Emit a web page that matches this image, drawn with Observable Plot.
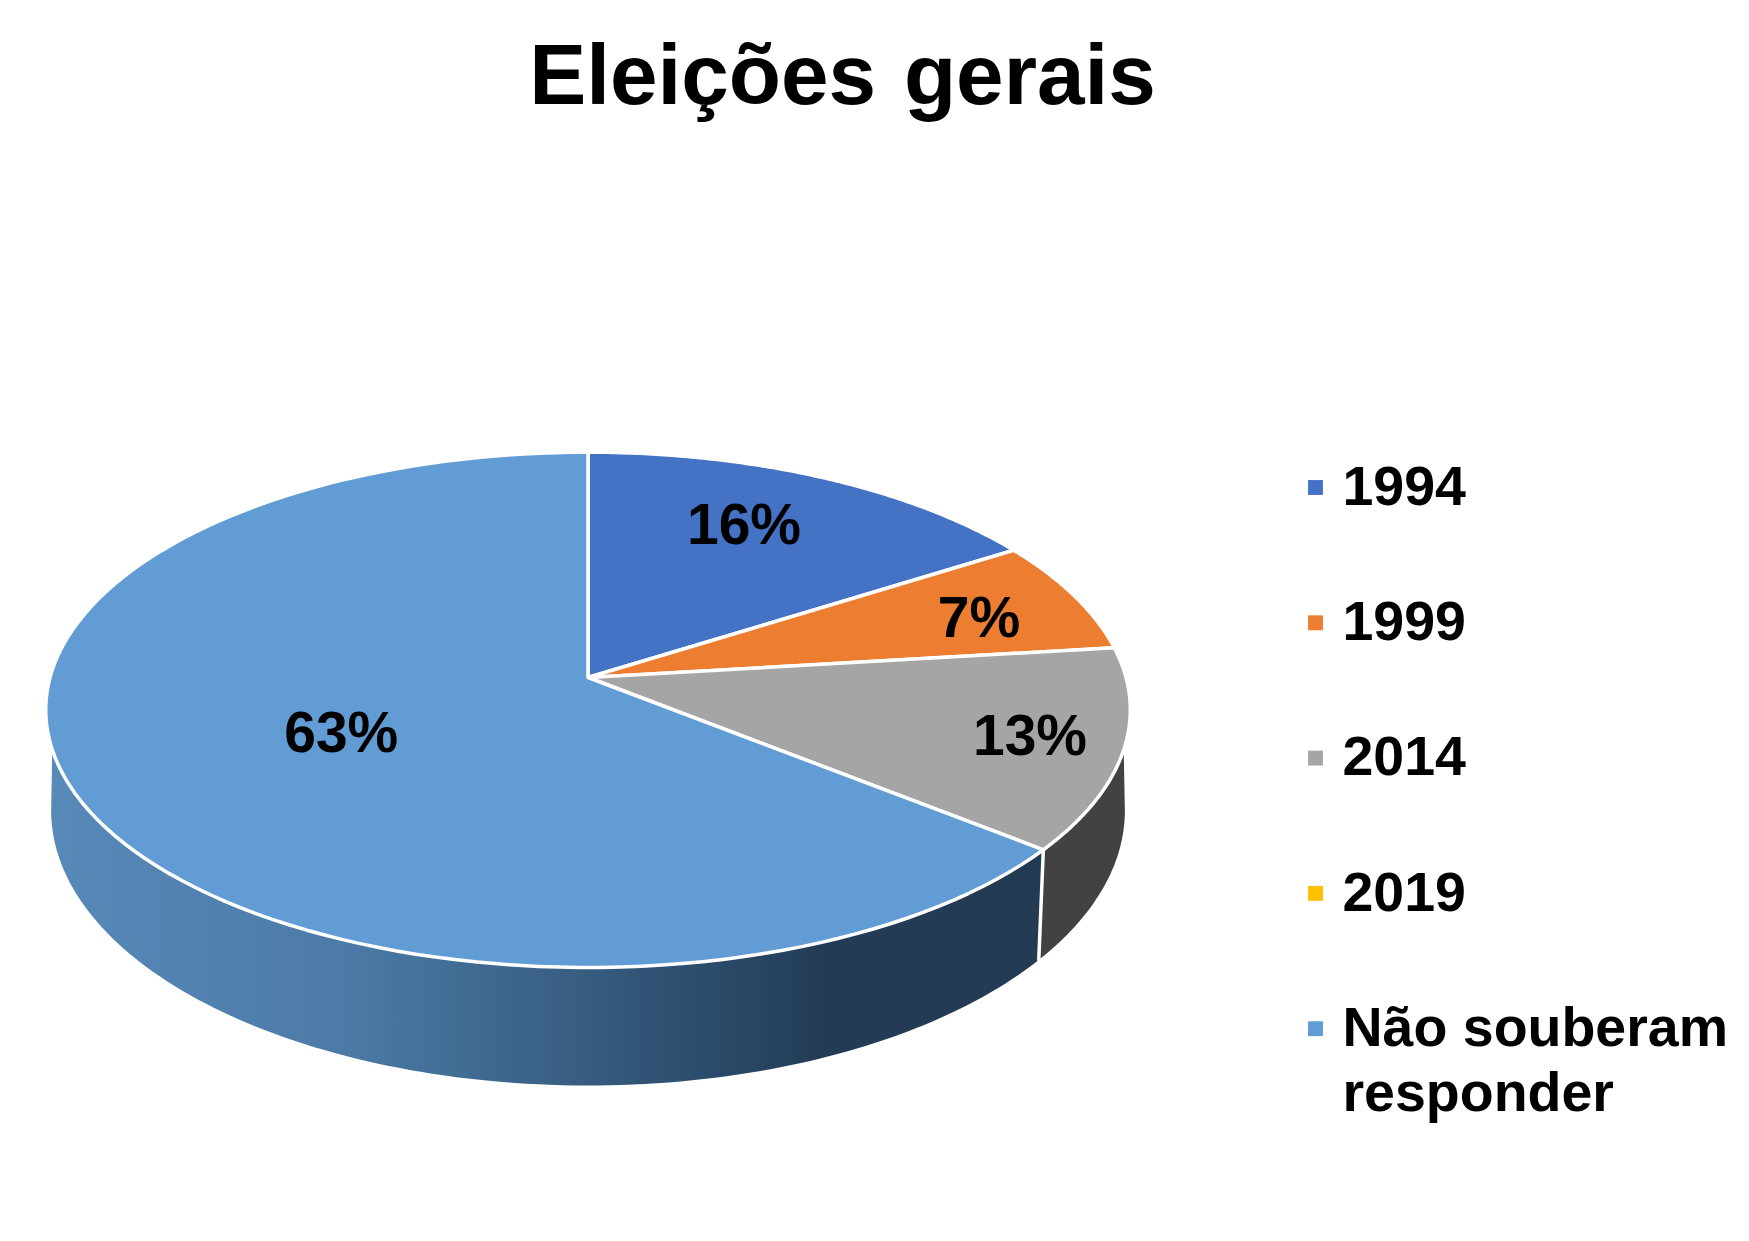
<!DOCTYPE html>
<html lang="pt">
<head>
<meta charset="utf-8">
<title>Eleições gerais</title>
<script src="https://cdn.jsdelivr.net/npm/d3@7"></script>
<script src="https://cdn.jsdelivr.net/npm/@observablehq/plot@0.6"></script>
<style>
  html, body { margin: 0; background: #fff; }
  #chart { width: 1749px; filter: blur(0.6px); }
  h1 { margin: 0; height: 130px; box-sizing: border-box; padding-top: 14.5px;
       width: 1685px; text-align: center; font: bold 85.5px/120px "Liberation Sans", Arial, sans-serif; word-spacing: 4px; color: #000; }
  svg { display: block; }
</style>
</head>
<body>
<div id="chart"><h1>Eleições gerais</h1></div>
<script>
const categories = ["1994", "1999", "2014", "2019", "Não souberam\nresponder"];
const shares = [15.8, 7, 12.5, 0, 63.4];
const sliceColors = ["#4472c4", "#ed7d31", "#a5a5a5", "#ffc000", "#619dd4"];

const W = 1749, H = 1111, top0 = 130;
// perspective view of the disc, seen from the front and above
const apex = {x: 587.5, y: 677}, spanX = 538, spanY = 253.6, tilt = -0.1255;
const depth = {kx: 0.99, ky: 1.067, drop: 98.6};
const rad = d => d * Math.PI / 180;
const project = (deg, r = 1) => {
  const u = r * Math.sin(rad(deg)), v = -r * Math.cos(rad(deg)), w = 1 + tilt * v;
  return {dx: spanX * u / w, dy: spanY * v / w};
};
const onTop = (deg, r) => { const p = project(deg, r); return {x: apex.x + p.dx, y: apex.y + p.dy}; };
const onBase = deg => { const p = project(deg); return {x: apex.x + depth.kx * p.dx, y: apex.y + depth.ky * p.dy + depth.drop}; };
const arc = (a, b, f) => d3.range(0, 121).map(i => f(a + (b - a) * i / 120));

const total = d3.sum(shares);
const cum = d3.cumsum(shares);
const ends = Array.from(cum, c => c / total * 360);
const starts = ends.map((_, i) => (i ? ends[i - 1] : 0));

const slices = categories.flatMap((cat, i) => shares[i] > 0
  ? [{...apex, cat}, ...arc(starts[i], ends[i], d => ({...onTop(d), cat}))] : []);

const labelReach = [0.72, 0.785, 0.83, 0, 0.495];
const labelTurn = [-3, 2, 0, 0, 0];
const labels = categories.map((cat, i) => ({
  cat, share: shares[i], ...onTop((starts[i] + ends[i]) / 2 + labelTurn[i], labelReach[i])
})).filter(d => d.share > 0);

// front walls
const rimStart = 106, rimEnd = 254, baseStart = 97, baseEnd = 263;
const split = ends[2];
const wallGray = [...arc(rimStart, split, onTop), ...arc(split, baseStart, onBase)];
const wallBlue = [...arc(split, rimEnd, onTop), ...arc(baseEnd, split, onBase)];
const divider = [onTop(split), onBase(split)];

const legendFirstRow = 487, legendStep = 135.3, legendSwatchX = 1315, legendTextX = 1342;
const legend = categories.map((cat, i) => ({cat, y: legendFirstRow + i * legendStep}));

const gradient = () => {
  const defs = d3.create("svg:defs");
  const g = defs.append("linearGradient").attr("id", "wallGrad");
  [[0, "#5789b9"], [0.3, "#4b7aa6"], [0.5, "#3a6186"], [0.62, "#2f5172"], [0.78, "#233c55"], [1, "#233b52"]]
    .forEach(([o, c]) => g.append("stop").attr("offset", o).attr("stop-color", c));
  return defs.node();
};

const chart = Plot.plot({
  width: W, height: H,
  marginTop: 0, marginRight: 0, marginBottom: 0, marginLeft: 0,
  style: {background: "#fff", fontFamily: "'Liberation Sans', Arial, sans-serif"},
  x: {type: "linear", domain: [0, W], range: [0, W], axis: null},
  y: {type: "linear", domain: [top0, top0 + H], range: [0, H], axis: null},
  color: {domain: categories, range: sliceColors},
  marks: [
    gradient,
    Plot.line(wallGray, {x: "x", y: "y", fill: "#424242", stroke: "none", curve: "linear-closed"}),
    Plot.line(wallBlue, {x: "x", y: "y", fill: "url(#wallGrad)", stroke: "none", curve: "linear-closed"}),
    Plot.line(divider, {x: "x", y: "y", stroke: "#fff", strokeWidth: 3.5}),
    Plot.line(slices, {x: "x", y: "y", z: "cat", fill: "cat", stroke: "#fff", strokeWidth: 3.5, strokeLinejoin: "round", curve: "linear-closed"}),
    Plot.text(labels, {x: "x", y: "y", text: d => `${Math.round(d.share)}%`, fontSize: 57, fontWeight: "bold", fill: "#000"}),
    Plot.dot(legend, {x: () => legendSwatchX, y: "y", symbol: "square", r: 8.4, fill: "cat", stroke: "none"}),
    Plot.text(legend, {x: () => legendTextX, y: "y", text: "cat", textAnchor: "start", lineAnchor: "top", dy: -29, lineHeight: 1.17, fontSize: 55.5, fontWeight: "bold", fill: "#000"})
  ]
});
document.getElementById("chart").append(chart);
</script>
</body>
</html>
